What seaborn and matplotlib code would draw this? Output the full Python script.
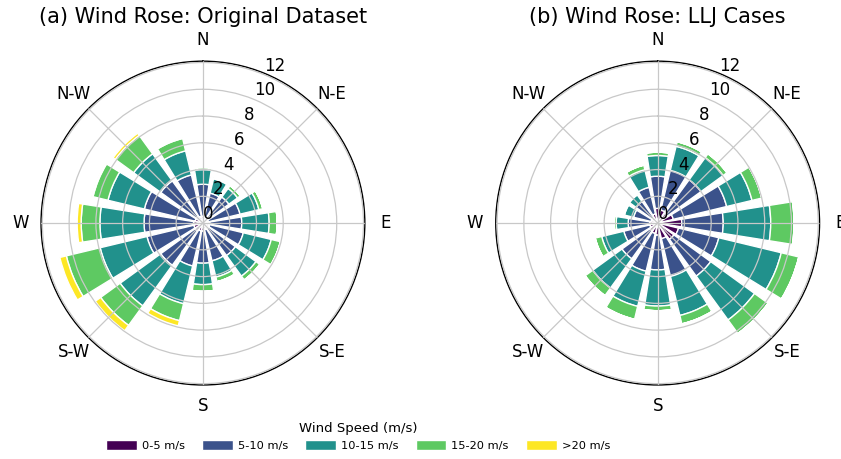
import numpy as np
import matplotlib
matplotlib.use("Agg")
import matplotlib.pyplot as plt
import seaborn as sns

# 16 compass sectors, clockwise from north
directions = ["N", "NNE", "NE", "ENE", "E", "ESE", "SE", "SSE",
              "S", "SSW", "SW", "WSW", "W", "WNW", "NW", "NNW"]
speed_bins = ["0-5 m/s", "5-10 m/s", "10-15 m/s", "15-20 m/s", ">20 m/s"]
compass_labels = ["N", "N-E", "E", "S-E", "S", "S-W", "W", "N-W"]

# (a) original dataset - frequency (%) per speed bin
orig_0_5 = [0.5, 0.4, 0.4, 0.4, 0.5, 0.5, 0.5, 0.5, 0.6, 0.6, 0.7, 0.7, 0.7, 0.6, 0.6, 0.5]
orig_5_10 = [2.4, 1.9, 2.0, 2.45, 2.4, 2.6, 2.5, 2.4, 2.4, 2.7, 3.2, 3.6, 3.7, 3.9, 3.3, 3.2]
orig_10_15 = [1.1, 1.1, 0.8, 1.45, 2.05, 2.15, 1.9, 1.25, 1.6, 2.9, 3.75, 3.6, 3.3, 2.8, 2.5, 1.85]
orig_15_20 = [0.15, 0.1, 0.25, 0.3, 0.6, 0.7, 0.35, 0.35, 0.5, 1.3, 1.8, 2.6, 1.4, 1.15, 1.7, 0.95]
orig_20_up = [0, 0, 0, 0, 0, 0, 0, 0, 0, 0.4, 0.5, 0.5, 0.3, 0.1, 0.2, 0.05]

# (b) LLJ cases - frequency (%) per speed bin
llj_0_5 = [1.1, 1.0, 0.9, 1.2, 1.8, 1.6, 1.5, 1.2, 0.9, 0.8, 0.7, 0.6, 0.6, 0.5, 0.5, 0.7]
llj_5_10 = [2.4, 3.05, 3.1, 4.1, 3.1, 3.1, 3.4, 2.9, 2.6, 2.9, 2.6, 2.0, 1.6, 1.35, 1.5, 2.05]
llj_10_15 = [1.55, 1.85, 2.05, 1.95, 3.55, 4.8, 4.05, 3.0, 2.7, 2.7, 2.7, 1.7, 0.9, 0.7, 0.6, 1.35]
llj_15_20 = [0.25, 0.35, 0.35, 0.75, 1.75, 1.35, 1.25, 0.65, 0.35, 1.0, 0.7, 0.5, 0.15, 0.05, 0.05, 0.35]
llj_20_up = [0] * 16

sns.set_style("white")
plt.rcParams.update({
    "axes.axisbelow": False,
    "text.color": "black",
    "xtick.color": "black",
    "ytick.color": "black",
    "axes.labelcolor": "black",
})
colors = plt.cm.viridis(np.linspace(0, 1, 5))


def wind_rose(ax, bins, title):
    theta = np.deg2rad(np.arange(len(directions)) * 360 / len(directions))
    width = 2 * np.pi / len(directions) * 0.8
    bottom = np.zeros(len(directions))
    for vals, col, lab in zip(bins, colors, speed_bins):
        vals = np.array(vals, dtype=float)
        ax.bar(theta, vals, width=width, bottom=bottom, color=col,
               edgecolor="white", linewidth=1, label=lab)
        bottom += vals
    ax.set_theta_zero_location("N")
    ax.set_theta_direction(-1)
    ax.set_xticks(np.deg2rad(np.arange(0, 360, 45)))
    ax.set_xticklabels(compass_labels, fontsize=12)
    ax.tick_params(axis="x", pad=4.5)
    ax.set_ylim(0, 12.1)
    ax.set_yticks(np.arange(0, 13, 2))
    ax.tick_params(axis="y", labelsize=12)
    ax.grid(True, color="#c8c8c8", linewidth=0.9)
    ax.spines["polar"].set_color("black")
    ax.spines["polar"].set_linewidth(1)
    ax.set_title(title, fontsize=15, color="black")


fig = plt.figure(figsize=(8.41, 4.59), dpi=100)
ax1 = fig.add_axes([0.0488, 0.161, 0.385, 0.706], projection="polar")
ax2 = fig.add_axes([0.5895, 0.161, 0.385, 0.706], projection="polar")

wind_rose(ax1, [orig_0_5, orig_5_10, orig_10_15, orig_15_20, orig_20_up],
          "(a) Wind Rose: Original Dataset")
wind_rose(ax2, [llj_0_5, llj_5_10, llj_10_15, llj_15_20, llj_20_up],
          "(b) Wind Rose: LLJ Cases")

handles, labels = ax1.get_legend_handles_labels()
fig.legend(handles, labels, loc="lower center", bbox_to_anchor=(0.4257, -0.005),
           ncol=5, frameon=False, title="Wind Speed (m/s)", fontsize=8.2,
           title_fontsize=9.5, handlelength=2.7, handleheight=0.9,
           handletextpad=0.45, columnspacing=1.5)

fig.savefig("out.png", dpi=100)
